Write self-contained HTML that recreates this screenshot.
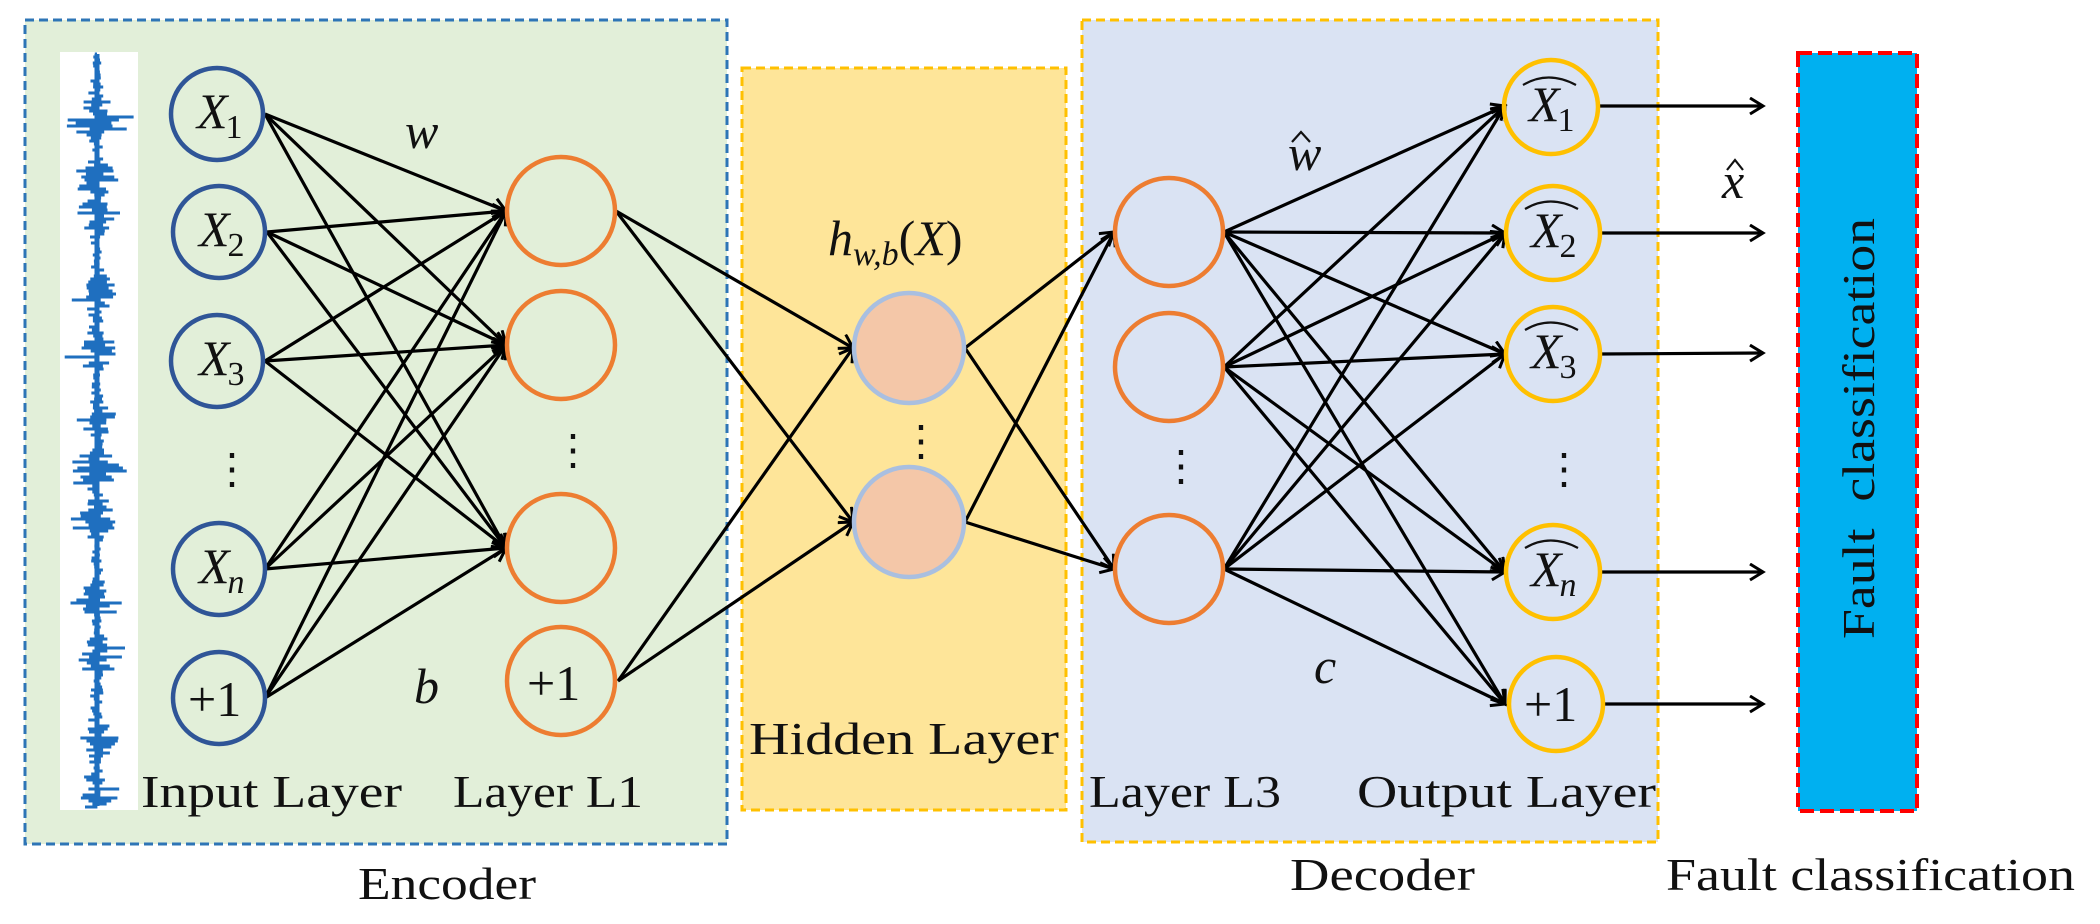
<!DOCTYPE html>
<html><head><meta charset="utf-8"><style>
html,body{margin:0;padding:0;background:#fff;}
svg{display:block;}
text{font-family:"Liberation Serif",serif;fill:#111;}
</style></head><body>
<svg width="2100" height="924" viewBox="0 0 2100 924" xmlns="http://www.w3.org/2000/svg">
<defs>
<marker id="a" markerWidth="22" markerHeight="22" refX="15" refY="9" orient="auto" markerUnits="userSpaceOnUse">
<polyline points="2,1 15,9 2,17" fill="none" stroke="#000" stroke-width="3"/>
</marker>
</defs>
<rect x="25" y="20" width="702" height="824" fill="#e2efd9" stroke="#2e75b6" stroke-width="3" stroke-dasharray="9,5"/>
<rect x="742" y="68" width="324" height="742" fill="#fee599" stroke="#ffc000" stroke-width="3" stroke-dasharray="9,5"/>
<rect x="1082" y="20" width="576" height="822" fill="#dae3f3" stroke="#ffc000" stroke-width="3" stroke-dasharray="9,5"/>
<rect x="1798" y="53" width="119" height="758" fill="#00b0f0" stroke="#ff0000" stroke-width="4" stroke-dasharray="14,6"/>
<rect x="60" y="52" width="78" height="758" fill="#fff"/>
<g id="sig" stroke="#1f6fbf" stroke-width="3" fill="none"></g>
<g stroke="#000" stroke-width="3.2" marker-end="url(#a)">
<line x1="265" y1="114" x2="506" y2="211"/><line x1="265" y1="114" x2="506" y2="345"/><line x1="265" y1="114" x2="506" y2="548"/>
<line x1="267" y1="232" x2="506" y2="211"/><line x1="267" y1="232" x2="506" y2="345"/><line x1="267" y1="232" x2="506" y2="548"/>
<line x1="265" y1="361" x2="506" y2="211"/><line x1="265" y1="361" x2="506" y2="345"/><line x1="265" y1="361" x2="506" y2="548"/>
<line x1="265" y1="569" x2="506" y2="211"/><line x1="265" y1="569" x2="506" y2="345"/><line x1="265" y1="569" x2="506" y2="548"/>
<line x1="265" y1="698" x2="506" y2="211"/><line x1="265" y1="698" x2="506" y2="345"/><line x1="265" y1="698" x2="506" y2="548"/>
<line x1="616" y1="211" x2="853" y2="348"/><line x1="616" y1="211" x2="853" y2="522"/>
<line x1="618" y1="681" x2="853" y2="348"/><line x1="618" y1="681" x2="853" y2="522"/>
<line x1="965" y1="348" x2="1114" y2="232"/><line x1="965" y1="348" x2="1114" y2="569"/>
<line x1="965" y1="522" x2="1114" y2="232"/><line x1="965" y1="522" x2="1114" y2="569"/>
<line x1="1224" y1="232" x2="1505" y2="106"/><line x1="1224" y1="232" x2="1505" y2="233"/><line x1="1224" y1="232" x2="1505" y2="354"/><line x1="1224" y1="232" x2="1505" y2="572"/><line x1="1224" y1="232" x2="1505" y2="704"/>
<line x1="1224" y1="367" x2="1505" y2="106"/><line x1="1224" y1="367" x2="1505" y2="233"/><line x1="1224" y1="367" x2="1505" y2="354"/><line x1="1224" y1="367" x2="1505" y2="572"/><line x1="1224" y1="367" x2="1505" y2="704"/>
<line x1="1224" y1="569" x2="1505" y2="106"/><line x1="1224" y1="569" x2="1505" y2="233"/><line x1="1224" y1="569" x2="1505" y2="354"/><line x1="1224" y1="569" x2="1505" y2="572"/><line x1="1224" y1="569" x2="1505" y2="704"/>
<line x1="1598" y1="106" x2="1763" y2="106"/><line x1="1600" y1="233" x2="1763" y2="233"/><line x1="1600" y1="354" x2="1763" y2="353"/><line x1="1600" y1="572" x2="1763" y2="572"/><line x1="1602" y1="704" x2="1763" y2="704"/>
</g>
<g fill="none" stroke="#2f5597" stroke-width="4.5">
<circle cx="217" cy="114" r="46"/><circle cx="219" cy="232" r="46"/><circle cx="217" cy="361" r="46"/><circle cx="219" cy="569" r="46"/><circle cx="219" cy="698" r="46"/>
</g>
<g fill="none" stroke="#ed7d31" stroke-width="4.5">
<circle cx="561" cy="211" r="54"/><circle cx="561" cy="345" r="54"/><circle cx="561" cy="548" r="54"/><circle cx="561" cy="681" r="54"/>
<circle cx="1169" cy="232" r="54"/><circle cx="1169" cy="367" r="54"/><circle cx="1169" cy="569" r="54"/>
</g>
<g fill="#f4c7a8" stroke="#a9bfe0" stroke-width="4.5">
<circle cx="909" cy="348" r="55"/><circle cx="909" cy="522" r="55"/>
</g>
<g fill="none" stroke="#ffc000" stroke-width="4.5">
<circle cx="1551" cy="107" r="47"/><circle cx="1553" cy="233" r="47"/><circle cx="1553" cy="354" r="47"/><circle cx="1553" cy="572" r="47"/><circle cx="1556" cy="704" r="47"/>
</g>
<g fill="none" stroke="#111" stroke-width="2.2">
<path d="M1523 85 Q1548 70 1576 85"/><path d="M1525 209 Q1550 194 1578 209"/><path d="M1525 330 Q1550 315 1578 330"/><path d="M1525 548 Q1550 533 1578 548"/>
<path d="M1292 142 L1301 132 L1310 142"/><path d="M1727 170 L1735 160 L1743 170"/>
</g>
<g font-size="50" font-style="italic">
<text x="197" y="128">X<tspan font-size="34" font-style="normal" dx="-2" dy="10">1</tspan></text>
<text x="199" y="246">X<tspan font-size="34" font-style="normal" dx="-2" dy="10">2</tspan></text>
<text x="199" y="375">X<tspan font-size="34" font-style="normal" dx="-2" dy="10">3</tspan></text>
<text x="199" y="583">X<tspan font-size="34" dx="-2" dy="10">n</tspan></text>
<text x="1529" y="121">X<tspan font-size="34" font-style="normal" dx="-2" dy="10">1</tspan></text>
<text x="1531" y="247">X<tspan font-size="34" font-style="normal" dx="-2" dy="10">2</tspan></text>
<text x="1531" y="368">X<tspan font-size="34" font-style="normal" dx="-2" dy="10">3</tspan></text>
<text x="1531" y="586">X<tspan font-size="34" dx="-2" dy="10">n</tspan></text>
<text x="405" y="148">w</text>
<text x="414" y="703">b</text>
<text x="1288" y="170">w</text>
<text x="1314" y="683">c</text>
<text x="1722" y="198">x</text>
<text x="828" y="255">h<tspan font-size="34" dy="10">w,b</tspan><tspan dy="-10" font-style="normal">(</tspan>X<tspan font-style="normal">)</tspan></text>
</g>
<g font-size="50">
<text x="188" y="716">+1</text>
<text x="527" y="700">+1</text>
<text x="1524" y="721">+1</text>
</g>
<g font-size="42">
<text x="211" y="483">⋮</text><text x="552" y="464">⋮</text><text x="900" y="455">⋮</text><text x="1160" y="480">⋮</text><text x="1543" y="483">⋮</text>
</g>
<g font-size="46">
<text x="141" y="807" textLength="261" lengthAdjust="spacingAndGlyphs">Input Layer</text>
<text x="453" y="807" textLength="190" lengthAdjust="spacingAndGlyphs">Layer L1</text>
<text x="749" y="754" textLength="310" lengthAdjust="spacingAndGlyphs">Hidden Layer</text>
<text x="1089" y="807" textLength="192" lengthAdjust="spacingAndGlyphs">Layer L3</text>
<text x="1357" y="807" textLength="299" lengthAdjust="spacingAndGlyphs">Output Layer</text>
<text x="358" y="899" textLength="178" lengthAdjust="spacingAndGlyphs">Encoder</text>
<text x="1290" y="890" textLength="185" lengthAdjust="spacingAndGlyphs">Decoder</text>
<text x="1666" y="890" textLength="409" lengthAdjust="spacingAndGlyphs">Fault classification</text>
<text transform="translate(1874,639) rotate(-90)" textLength="421" lengthAdjust="spacingAndGlyphs" xml:space="preserve">Fault  classification</text>
</g>
</svg>
<script>
(function(){
var s=11,d='';function r(){s=(s*16807)%2147483647;return s/2147483647;}
var bursts=[[120,70],[178,60],[212,40],[295,60],[352,48],[420,50],[470,70],[520,60],[600,58],[655,48],[740,60],[790,50]];
for(var y=54;y<808;y+=3){
 var b=0,w=0;bursts.forEach(function(c){var dd=Math.abs(y-c[0]);if(dd<22){var v=1-dd/22;if(v>b){b=v;w=c[1];}}});
 var a=6+b*w*0.5*(0.4+r());var cx=97+(r()-0.5)*6;
 d+='M'+(cx-a*r()).toFixed(1)+' '+y+'H'+(cx+a*r()).toFixed(1);
}
var p=document.createElementNS('http://www.w3.org/2000/svg','path');p.setAttribute('d',d);
document.getElementById('sig').appendChild(p);
var q=document.createElementNS('http://www.w3.org/2000/svg','line');
q.setAttribute('x1',97);q.setAttribute('x2',97);q.setAttribute('y1',54);q.setAttribute('y2',806);q.setAttribute('stroke-width',5);
document.getElementById('sig').appendChild(q);
})();
</script>
</body></html>
